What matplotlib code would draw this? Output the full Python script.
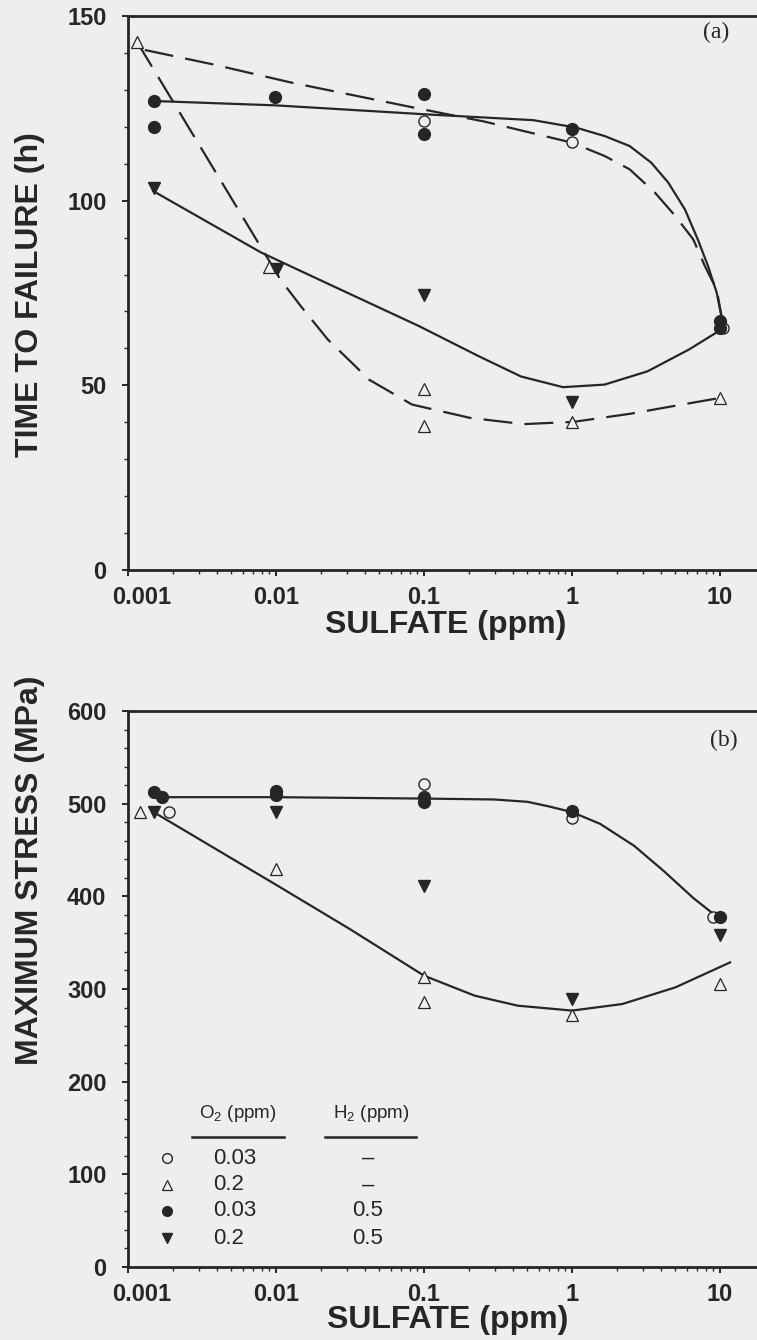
import matplotlib
matplotlib.use("Agg")
import matplotlib.pyplot as plt
from matplotlib.ticker import FixedLocator, LogLocator, NullFormatter, MultipleLocator
from matplotlib.transforms import ScaledTranslation

# ---------------- data: panel (a) time to failure (h) ----------------
a_open_circle_x = [0.1, 1.0, 10.5]
a_open_circle_y = [121.5, 116.0, 65.5]
a_open_tri_x = [0.00115, 0.0089, 0.1, 0.1, 1.0, 10.0]
a_open_tri_y = [143.0, 82.0, 49.0, 39.0, 40.0, 46.5]
a_fill_circle_x = [0.0015, 0.0015, 0.0098, 0.1, 0.1, 1.0, 10.0, 10.0]
a_fill_circle_y = [127.0, 120.0, 128.0, 129.0, 118.0, 119.5, 67.5, 65.5]
a_fill_tri_x = [0.0015, 0.0101, 0.1, 1.0]
a_fill_tri_y = [103.5, 81.5, 74.5, 45.5]

# fitted trend curves, panel (a)
a_curve_oc_x = [0.0013, 0.00375, 0.0126, 0.083, 0.257, 1.0, 1.66, 2.45, 3.63, 5.0,
                6.6, 7.9, 9.5, 10.4]
a_curve_oc_y = [140.8, 136.9, 132.0, 125.3, 121.4, 115.7, 112.1, 108.5, 102.2, 95.8,
                89.5, 82.3, 75.9, 67.2]
a_curve_fc_x = [0.00146, 0.01, 0.1, 0.547, 1.06, 1.66, 2.45, 3.43, 4.47, 5.8, 7.08,
                8.3, 9.5, 10.4]
a_curve_fc_y = [127.0, 125.8, 123.4, 121.8, 119.8, 117.5, 114.8, 110.3, 104.9, 97.6,
                89.5, 82.3, 75.1, 67.2]
a_curve_ot_x = [0.00115, 0.0107, 0.0146, 0.0224, 0.0427, 0.083, 0.204, 0.47, 1.02,
                2.47, 6.12, 10.4]
a_curve_ot_y = [143.0, 78.7, 71.6, 62.4, 51.5, 44.8, 41.2, 39.5, 40.1, 42.3, 45.1, 46.7]
a_curve_ft_x = [0.00148, 0.0079, 0.0267, 0.093, 0.234, 0.452, 0.87, 1.66, 3.24, 6.17,
                10.2]
a_curve_ft_y = [102.6, 86.0, 76.1, 66.0, 57.9, 52.4, 49.5, 50.2, 53.8, 59.7, 65.1]

# ---------------- data: panel (b) maximum stress (MPa) ----------------
b_open_circle_x = [0.0019, 0.1, 1.0, 9.0]
b_open_circle_y = [491.0, 521.0, 485.0, 378.0]
b_open_tri_x = [0.0012, 0.01, 0.1, 0.1, 1.0, 10.0]
b_open_tri_y = [491.0, 429.0, 312.5, 285.5, 271.5, 305.5]
b_fill_circle_x = [0.0015, 0.0017, 0.01, 0.01, 0.1, 0.1, 1.0, 10.0]
b_fill_circle_y = [512.5, 507.5, 514.0, 509.0, 507.0, 502.0, 492.0, 377.5]
b_fill_tri_x = [0.0015, 0.01, 0.1, 1.0, 10.0]
b_fill_tri_y = [491.0, 491.0, 411.0, 289.0, 358.0]

b_curve_upper_x = [0.00167, 0.01, 0.1, 0.3, 0.5, 0.7, 1.0, 1.55, 2.63, 4.17, 6.6, 9.5]
b_curve_upper_y = [507.0, 507.0, 505.5, 504.5, 502.0, 497.0, 490.9, 478.2, 454.5, 427.3,
                   398.2, 378.2]
b_curve_lower_x = [0.00156, 0.01, 0.0313, 0.1, 0.22, 0.43, 1.0, 2.19, 5.0, 11.7]
b_curve_lower_y = [489.0, 412.5, 365.0, 314.4, 292.8, 282.0, 276.7, 283.8, 301.8, 328.7]

# axis ticks
x_ticks = [0.001, 0.01, 0.1, 1, 10]
x_tick_labels = ["0.001", "0.01", "0.1", "1", "10"]
a_y_ticks = [0, 50, 100, 150]
b_y_ticks = [0, 100, 200, 300, 400, 500, 600]

# legend rows: marker kind, O2 (ppm), H2 (ppm)
legend_kinds = ["oc", "ot", "fc", "ft"]
legend_o2 = ["0.03", "0.2", "0.03", "0.2"]
legend_h2 = ["\u2013", "\u2013", "0.5", "0.5"]

INK = "#262626"
BG = "#eeeeec"
SANS = ["Liberation Sans", "DejaVu Sans"]
SERIF = ["Liberation Serif", "DejaVu Serif"]

plt.rcParams["mathtext.fontset"] = "custom"
plt.rcParams["mathtext.rm"] = "Liberation Sans"

W, H = 757, 1340
fig = plt.figure(figsize=(W / 100, H / 100), dpi=100, facecolor=BG)


def px_axes(left, top, right, bottom):
    return fig.add_axes([left / W, 1 - bottom / H, (right - left) / W, (bottom - top) / H])


ax_a = px_axes(128, 16, 868, 570)
ax_b = px_axes(128, 711, 868, 1267)

MARK = {
    "oc": dict(marker="o", mfc=BG, mec=INK, mew=1.0, ms=8),
    "ot": dict(marker="^", mfc=BG, mec=INK, mew=0.9, ms=8),
    "fc": dict(marker="o", mfc=INK, mec=INK, mew=1.0, ms=8.5),
    "ft": dict(marker="v", mfc=INK, mec=INK, mew=1.0, ms=8.5),
}

LW = 1.6
DASH = (0, (13, 5.5))


def style_axes(ax, ymax, yticks, yminor):
    ax.set_facecolor(BG)
    ax.set_xscale("log")
    ax.set_xlim(1e-3, 1e2)
    ax.set_ylim(0, ymax)
    ax.xaxis.set_major_locator(FixedLocator(x_ticks))
    ax.set_xticklabels(x_tick_labels)
    ax.xaxis.set_minor_locator(LogLocator(base=10, subs=range(2, 10), numticks=20))
    ax.xaxis.set_minor_formatter(NullFormatter())
    ax.set_yticks(yticks)
    ax.set_yticklabels([str(v) for v in yticks])
    ax.yaxis.set_minor_locator(MultipleLocator(yminor))
    for sp in ax.spines.values():
        sp.set_color(INK)
        sp.set_linewidth(2.0)
    ax.tick_params(which="major", direction="out", length=4.5, width=1.4, color=INK,
                   labelsize=17, labelcolor=INK)
    ax.tick_params(which="minor", direction="out", length=3.0, width=1.0, color=INK)
    ax.tick_params(axis="x", which="major", pad=7)
    ax.tick_params(axis="y", which="major", pad=11)
    for lab in ax.get_xticklabels() + ax.get_yticklabels():
        lab.set_fontfamily(SANS)
        lab.set_fontweight("bold")
    # first decade label sits a little to the right of its tick
    first = ax.get_xticklabels()[0]
    first.set_transform(first.get_transform() + ScaledTranslation(0.14, 0, fig.dpi_scale_trans))


style_axes(ax_a, 150, a_y_ticks, 10)
style_axes(ax_b, 600, b_y_ticks, 20)

# ---- panel (a) ----
ax_a.plot(a_curve_oc_x, a_curve_oc_y, color=INK, lw=LW, ls=DASH)
ax_a.plot(a_curve_ot_x, a_curve_ot_y, color=INK, lw=LW, ls=DASH)
ax_a.plot(a_curve_fc_x, a_curve_fc_y, color=INK, lw=LW)
ax_a.plot(a_curve_ft_x, a_curve_ft_y, color=INK, lw=LW)
ax_a.plot(a_open_circle_x, a_open_circle_y, ls="none", **MARK["oc"])
ax_a.plot(a_open_tri_x, a_open_tri_y, ls="none", **MARK["ot"])
ax_a.plot(a_fill_circle_x, a_fill_circle_y, ls="none", **MARK["fc"])
ax_a.plot(a_fill_tri_x, a_fill_tri_y, ls="none", **MARK["ft"])

# ---- panel (b) ----
ax_b.plot(b_curve_upper_x, b_curve_upper_y, color=INK, lw=LW)
ax_b.plot(b_curve_lower_x, b_curve_lower_y, color=INK, lw=LW)
ax_b.plot(b_open_circle_x, b_open_circle_y, ls="none", **MARK["oc"])
ax_b.plot(b_open_tri_x, b_open_tri_y, ls="none", **MARK["ot"])
ax_b.plot(b_fill_circle_x, b_fill_circle_y, ls="none", **MARK["fc"])
ax_b.plot(b_fill_tri_x, b_fill_tri_y, ls="none", **MARK["ft"])

# panel tags
fig.text(716 / W, 1 - 32 / H, "(a)", ha="center", va="center", fontsize=17,
         family=SERIF, color=INK)
fig.text(724 / W, 1 - 740 / H, "(b)", ha="center", va="center", fontsize=17,
         family=SERIF, color=INK)

# axis titles
lab_kw = dict(fontsize=23, fontweight="bold", family=SANS, color=INK, ha="center")
fig.text(446 / W, 1 - 633 / H, "SULFATE (ppm)", va="baseline", **lab_kw)
fig.text(448 / W, 1 - 1328 / H, "SULFATE (ppm)", va="baseline", **lab_kw)
fig.text(30 / W, 1 - 295 / H, "TIME TO FAILURE (h)", rotation=90, va="center", **lab_kw)
fig.text(30 / W, 1 - 870 / H, "MAXIMUM STRESS (MPa)", rotation=90, va="center", **lab_kw)


# legend table inside panel (b)
def fx(px):
    return px / W


def fy(py):
    return 1 - py / H


hdr_kw = dict(fontsize=13.5, family=SANS, color=INK, ha="center", va="center")
fig.text(fx(238), fy(1114), r"O$_{\mathregular{2}}$ (ppm)", **hdr_kw)
fig.text(fx(371), fy(1114), r"H$_{\mathregular{2}}$ (ppm)", **hdr_kw)
fig.add_artist(plt.Line2D([fx(192), fx(284)], [fy(1137), fy(1137)], color=INK, lw=1.8))
fig.add_artist(plt.Line2D([fx(325), fx(416)], [fy(1137), fy(1137)], color=INK, lw=1.8))

row_y = [1158, 1185, 1211, 1238]
for kind, o2, h2, ry in zip(legend_kinds, legend_o2, legend_h2, row_y):
    m = dict(MARK[kind])
    m["ms"] = 7
    fig.add_artist(plt.Line2D([fx(167)], [fy(ry)], ls="none", **m))
    fig.text(fx(213), fy(ry), o2, fontsize=16, family=SANS, color=INK, ha="left", va="center")
    fig.text(fx(368), fy(ry), h2, fontsize=16, family=SANS, color=INK, ha="center", va="center")

fig.savefig("out.png", dpi=100, facecolor=BG)
